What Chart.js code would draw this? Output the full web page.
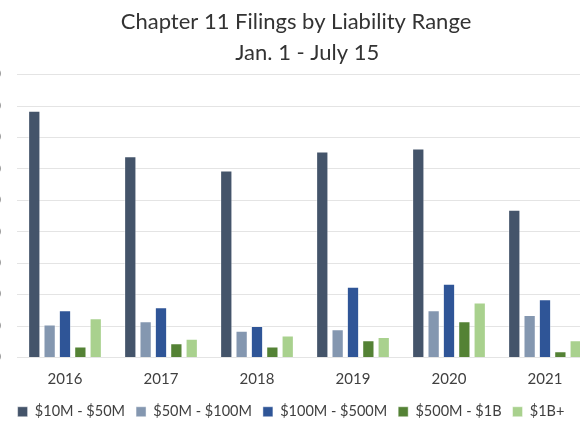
<!DOCTYPE html>
<html>
<head>
<meta charset="utf-8">
<script src="https://cdn.jsdelivr.net/npm/chart.js@4.4.0/dist/chart.umd.min.js"></script>
<style>
    html, body { margin: 0; padding: 0; overflow: hidden; background: #fff; }
    .wrap { position: absolute; left: -23px; top: 0; }
</style>
</head>
<body>
<div class="wrap"><canvas class="js-chart" width="670" height="435"></canvas></div>
<script>
const years = ['2016', '2017', '2018', '2019', '2020', '2021'];
const range10to50 = [157, 128, 119, 131, 133, 94];
const range50to100 = [21, 23, 17, 18, 30, 27];
const range100to500 = [30, 32, 20, 45, 47, 37];
const range500to1b = [7, 9, 7, 11, 23, 4];
const range1bPlus = [25, 12, 14, 13, 35, 11];
const yTicks = [0, 20, 40, 60, 80, 100, 120, 140, 160, 180];

const FONT = 'Lato, "Open Sans", sans-serif';
const LEGEND_SHIFT = 5;

const ctx = document.querySelector('.js-chart').getContext('2d');

// nudges the legend sideways, the source picture has it off-centre
const shiftLegend = {
    id: 'shiftLegend',
    afterLayout(chart) {
        chart.legend.left -= LEGEND_SHIFT;
        chart.legend.right -= LEGEND_SHIFT;
    },
};

function dataset(label, data, color) {
    return {
        label,
        data,
        backgroundColor: color,
        borderColor: 'rgba(255, 255, 255, 0.45)',
        borderWidth: 1,
        categoryPercentage: 0.8,
        barPercentage: 0.8,
    };
}

new Chart(ctx, {
    type: 'bar',
    data: {
        labels: years,
        datasets: [
            dataset('$10M - $50M', range10to50, '#44546a'),
            dataset('$50M - $100M', range50to100, '#8497b0'),
            dataset('$100M - $500M', range100to500, '#2f5597'),
            dataset('$500M - $1B', range500to1b, '#548235'),
            dataset('$1B+', range1bPlus, '#a9d18e'),
        ],
    },
    plugins: [shiftLegend],
    options: {
        responsive: false,
        animation: false,
        layout: { padding: { left: 22, right: 54, top: 0, bottom: 6 } },
        plugins: {
            title: {
                display: true,
                // second line sits a little right of centre in the source
                text: ['Chapter 11 Filings by Liability Range', '    Jan. 1 - July 15'],
                color: '#333333',
                font: { family: FONT, size: 22, weight: 'normal', lineHeight: 1.4 },
                padding: { top: 7, bottom: 6 },
            },
            legend: {
                position: 'bottom',
                labels: {
                    boxWidth: 10,
                    boxHeight: 10,
                    padding: 11,
                    color: '#404040',
                    font: { family: FONT, size: 14.5 },
                },
            },
            tooltip: { enabled: false },
        },
        scales: {
            x: {
                grid: { display: false },
                border: { display: false },
                ticks: {
                    color: '#404040',
                    padding: 5,
                    font: { family: FONT, size: 15 },
                },
            },
            y: {
                min: 0,
                max: 180,
                afterFit(scale) {
                    scale.width = 18;
                },
                afterBuildTicks(scale) {
                    scale.ticks = yTicks.map(value => ({ value }));
                },
                grid: { color: '#e4e4e4', lineWidth: 1, drawTicks: false },
                border: { display: false },
                ticks: {
                    color: '#404040',
                    padding: 16,
                    font: { family: FONT, size: 15 },
                },
            },
        },
    },
});
</script>
</body>
</html>
